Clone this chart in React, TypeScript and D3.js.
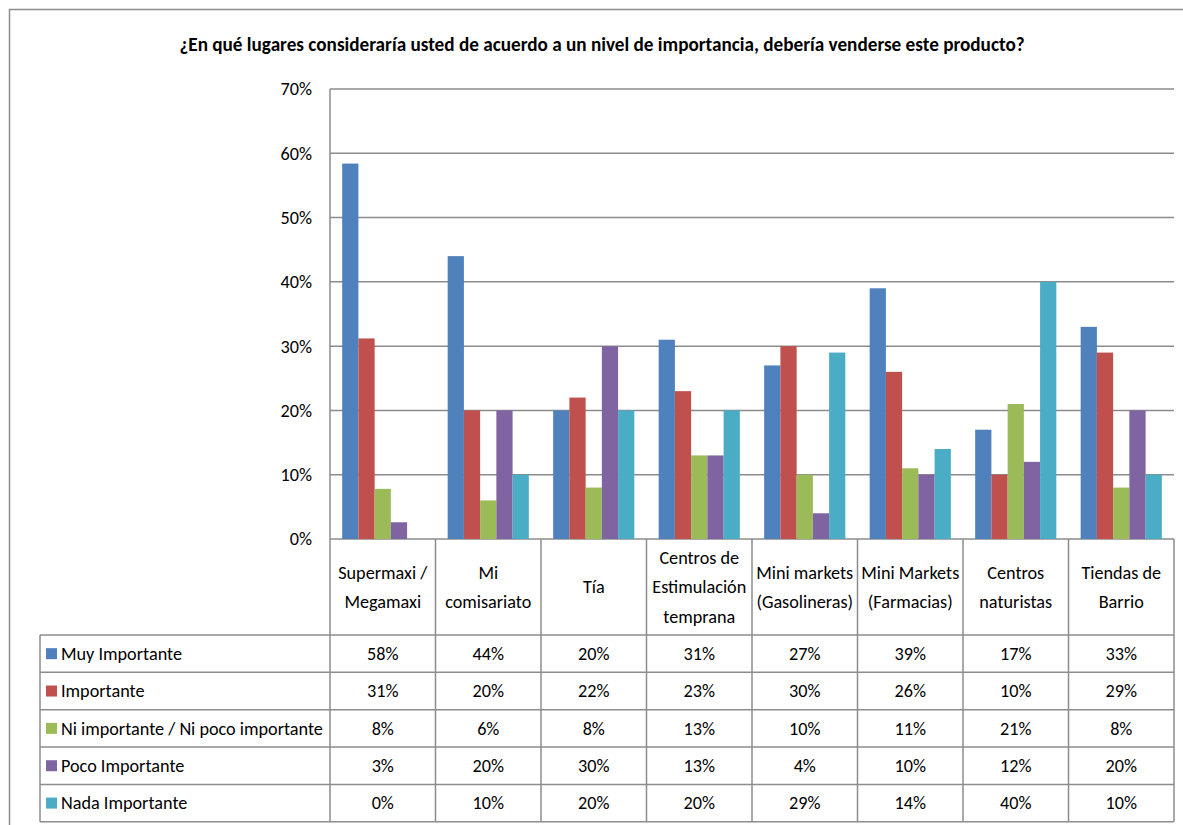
import React, { useEffect, useRef } from "react";
import * as d3 from "d3";

const categories = [
  ["Supermaxi /", "Megamaxi"],
  ["Mi", "comisariato"],
  ["Tía"],
  ["Centros de", "Estimulación", "temprana"],
  ["Mini markets", "(Gasolineras)"],
  ["Mini Markets", "(Farmacias)"],
  ["Centros", "naturistas"],
  ["Tiendas de", "Barrio"],
];
const seriesNames = [
  "Muy Importante",
  "Importante",
  "Ni importante / Ni poco importante",
  "Poco Importante",
  "Nada Importante",
];
const colors = ["#4F81BD", "#C0504D", "#9BBB59", "#8064A2", "#4BACC6"];
// percent values per series, one per category
const muyImportante = [58.4, 44, 20, 31, 27, 39, 17, 33];
const importante = [31.2, 20, 22, 23, 30, 26, 10, 29];
const niImportante = [7.8, 6, 8, 13, 10, 11, 21, 8];
const pocoImportante = [2.6, 20, 30, 13, 4, 10, 12, 20];
const nadaImportante = [0, 10, 20, 20, 29, 14, 40, 10];
const seriesValues = [muyImportante, importante, niImportante, pocoImportante, nadaImportante];
const yTicks = [0, 10, 20, 30, 40, 50, 60, 70];

const title =
  "¿En qué lugares consideraría usted de acuerdo a un nivel de importancia, debería venderse este producto?";

const W = 1183;
const H = 825;
const plot = { left: 330, right: 1174, top: 89, bottom: 539 };
const table = { left: 40, top: 635, rowH: 37.35 };
const font = "Calibri, Carlito, Lato, sans-serif";
const lineColor = "#8c8c8c";
const fs = 18.2;

const App = () => {
  const ref = useRef<SVGSVGElement>(null);

  useEffect(() => {
    const svg = d3.select(ref.current);
    svg.selectAll("*").remove();

    const x = d3
      .scaleBand<number>()
      .domain(d3.range(categories.length))
      .range([plot.left, plot.right])
      .padding(0);
    const xs = d3
      .scaleBand<number>()
      .domain(d3.range(seriesNames.length))
      .range([0, x.bandwidth()])
      .paddingInner(0)
      .paddingOuter(0.75);
    const y = d3.scaleLinear().domain([0, 70]).range([plot.bottom, plot.top]);

    // outer chart border (cropped on right and bottom)
    svg
      .append("path")
      .attr("d", `M9.5,${H} V9.5 H${W}`)
      .attr("fill", "none")
      .attr("stroke", lineColor)
      .attr("stroke-width", 1.5);

    svg
      .append("text")
      .attr("x", 602)
      .attr("y", 51)
      .attr("text-anchor", "middle")
      .attr("font-family", font)
      .attr("font-weight", "bold")
      .attr("font-size", 19.2)
      .attr("fill", "#000")
      .text(title);

    // gridlines
    svg
      .append("g")
      .selectAll("line")
      .data(yTicks)
      .enter()
      .append("line")
      .attr("x1", plot.left)
      .attr("x2", plot.right)
      .attr("y1", (d) => y(d))
      .attr("y2", (d) => y(d))
      .attr("stroke", lineColor)
      .attr("stroke-width", 1.5);

    svg
      .append("g")
      .selectAll("text")
      .data(yTicks)
      .enter()
      .append("text")
      .attr("x", 312)
      .attr("y", (d) => y(d))
      .attr("dy", "0.35em")
      .attr("text-anchor", "end")
      .attr("font-family", font)
      .attr("font-size", fs)
      .attr("fill", "#000")
      .text((d) => d + "%");

    // bars
    const groups = svg
      .append("g")
      .selectAll("g")
      .data(seriesValues)
      .enter()
      .append("g")
      .attr("fill", (_, i) => colors[i]);
    groups
      .selectAll("rect")
      .data((vals, si) => vals.map((v, ci) => ({ v, ci, si })))
      .enter()
      .append("rect")
      .attr("x", (d) => (x(d.ci) as number) + (xs(d.si) as number))
      .attr("width", xs.bandwidth())
      .attr("y", (d) => y(d.v))
      .attr("height", (d) => plot.bottom - y(d.v));

    // table grid
    const nRows = seriesNames.length;
    const tableBottom = table.top + nRows * table.rowH;
    const grid = svg.append("g").attr("stroke", lineColor).attr("stroke-width", 1.5);
    grid
      .append("line")
      .attr("x1", plot.left)
      .attr("x2", plot.left)
      .attr("y1", plot.top)
      .attr("y2", tableBottom);
    grid
      .selectAll(".vcat")
      .data(d3.range(1, categories.length + 1))
      .enter()
      .append("line")
      .attr("x1", (d) => (d === categories.length ? plot.right : (x(d) as number)))
      .attr("x2", (d) => (d === categories.length ? plot.right : (x(d) as number)))
      .attr("y1", plot.bottom)
      .attr("y2", tableBottom);
    grid
      .selectAll(".hrow")
      .data(d3.range(nRows + 1))
      .enter()
      .append("line")
      .attr("x1", table.left)
      .attr("x2", plot.right)
      .attr("y1", (d) => table.top + d * table.rowH)
      .attr("y2", (d) => table.top + d * table.rowH);
    grid
      .append("line")
      .attr("x1", table.left)
      .attr("x2", table.left)
      .attr("y1", table.top)
      .attr("y2", tableBottom);

    // category labels
    const labelMid = (plot.bottom + table.top) / 2;
    const lineH = 29.5;
    svg
      .append("g")
      .selectAll("text")
      .data(categories)
      .enter()
      .append("text")
      .attr("text-anchor", "middle")
      .attr("font-family", font)
      .attr("font-size", fs)
      .attr("fill", "#000")
      .each(function (lines, i) {
        const t = d3.select(this);
        lines.forEach((ln, k) => {
          t.append("tspan")
            .attr("x", (x(i) as number) + x.bandwidth() / 2)
            .attr("y", labelMid + (k - (lines.length - 1) / 2) * lineH)
            .attr("dy", "0.35em")
            .text(ln);
        });
      });

    // table rows
    const rows = svg
      .append("g")
      .selectAll("g")
      .data(seriesNames)
      .enter()
      .append("g")
      .attr("transform", (_, i) => `translate(0,${table.top + (i + 0.5) * table.rowH})`);
    rows
      .append("rect")
      .attr("x", 46)
      .attr("y", -5.5)
      .attr("width", 11)
      .attr("height", 11)
      .attr("fill", (_, i) => colors[i]);
    rows
      .append("text")
      .attr("x", 61)
      .attr("dy", "0.35em")
      .attr("font-family", font)
      .attr("font-size", fs)
      .attr("fill", "#000")
      .text((d) => d);
    rows
      .selectAll(".val")
      .data((_, i) => seriesValues[i])
      .enter()
      .append("text")
      .attr("x", (_, ci) => (x(ci) as number) + x.bandwidth() / 2)
      .attr("dy", "0.35em")
      .attr("text-anchor", "middle")
      .attr("font-family", font)
      .attr("font-size", fs)
      .attr("fill", "#000")
      .text((v) => Math.round(v) + "%");
  }, []);

  return (
    <svg
      ref={ref}
      width={W}
      height={H}
      style={{ position: "absolute", left: 0, top: 0, background: "#fff" }}
    />
  );
};

export default App;
